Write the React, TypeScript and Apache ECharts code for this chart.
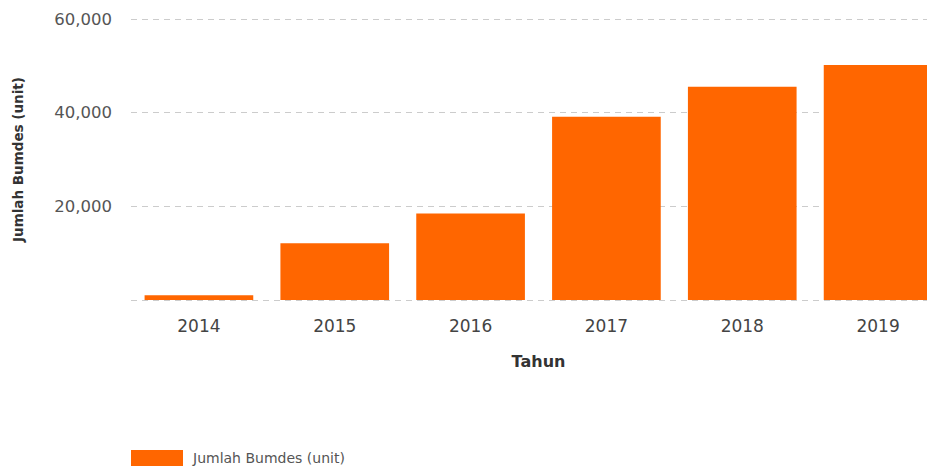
import React, { useEffect, useRef } from "react";
import * as echarts from "echarts";

const years = ["2014", "2015", "2016", "2017", "2018", "2019"];
const bumdes = [1022, 12115, 18446, 39149, 45549, 50199];
const seriesName = "Jumlah Bumdes (unit)";
const yAxisTitle = "Jumlah Bumdes (unit)";
const xAxisTitle = "Tahun";

export default function App() {
  const ref = useRef<HTMLDivElement>(null);
  useEffect(() => {
    if (!ref.current) return;
    const chart = echarts.init(ref.current, undefined, { renderer: "svg" });
    chart.setOption({
      animation: false,
      textStyle: { fontFamily: "DejaVu Sans" },
      grid: { left: 131, right: 0, top: 19, bottom: 171, containLabel: false },
      legend: {
        left: 131,
        top: 450,
        padding: 0,
        itemWidth: 52,
        itemHeight: 16,
        itemGap: 10,
        icon: "rect",
        textStyle: { fontSize: 14, color: "#555", fontFamily: "DejaVu Sans", padding: [0, 0, 0, 5] },
        data: [seriesName],
      },
      xAxis: {
        type: "category",
        data: years,
        name: xAxisTitle,
        nameLocation: "middle",
        nameGap: 53,
        nameTextStyle: { fontSize: 16, fontWeight: "bold", color: "#333", fontFamily: "DejaVu Sans" },
        axisLine: { show: false },
        axisTick: { show: false },
        axisLabel: { fontSize: 17, color: "#444", margin: 17, fontFamily: "DejaVu Sans" },
      },
      yAxis: {
        type: "value",
        min: 0,
        max: 60000,
        interval: 20000,
        name: yAxisTitle,
        nameLocation: "middle",
        nameGap: 106,
        nameTextStyle: { fontSize: 13.5, fontWeight: "bold", color: "#333", fontFamily: "DejaVu Sans" },
        axisLine: { show: false },
        axisTick: { show: false },
        axisLabel: {
          fontSize: 16.5,
          color: "#555",
          margin: 19,
          fontFamily: "DejaVu Sans",
          formatter: (v: number) => (v === 0 ? "" : v.toLocaleString("en-US")),
        },
        splitLine: { lineStyle: { color: "#ccc", type: [6, 5], width: 1 } },
      },
      series: [
        {
          name: seriesName,
          type: "bar",
          data: bumdes,
          barWidth: "80%",
          itemStyle: { color: "#ff6600" },
        },
      ],
    });
    return () => chart.dispose();
  }, []);
  return (
    <div style={{ width: 935, height: 471, marginLeft: -8, marginTop: -8, overflow: "hidden" }}>
      <div ref={ref} style={{ width: 946, height: 471 }} />
    </div>
  );
}
